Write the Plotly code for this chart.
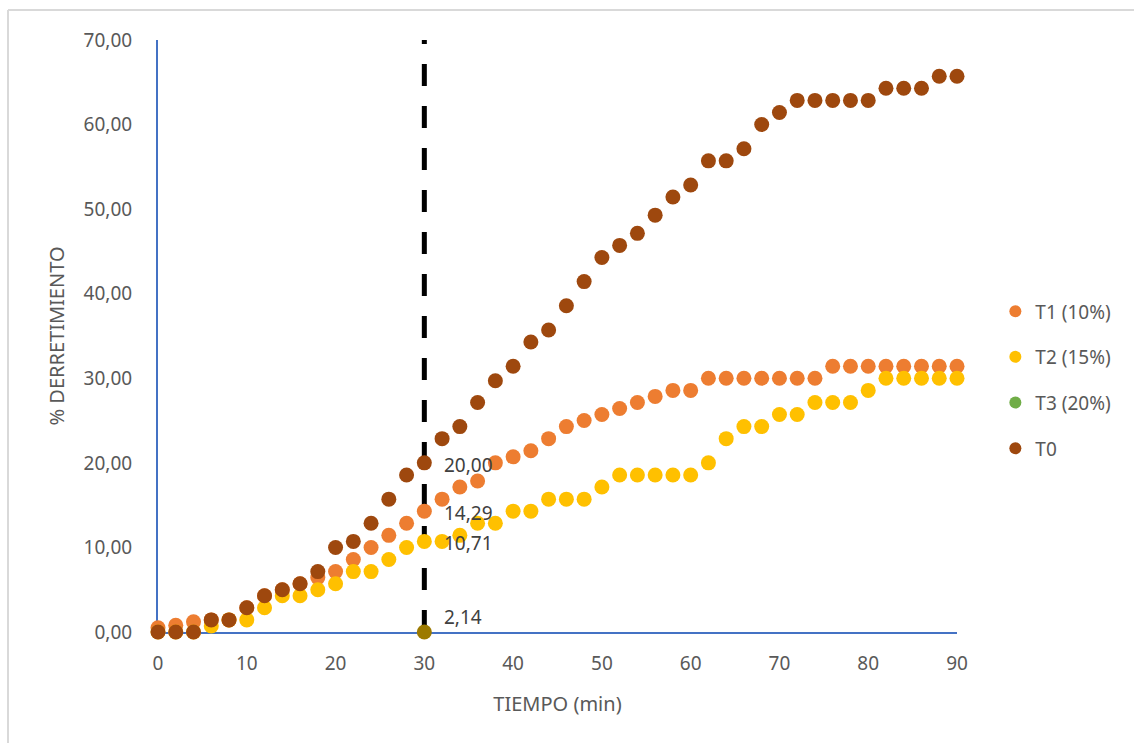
import plotly.graph_objects as go

tiempo = list(range(0, 92, 2))

t0 = [0, 0, 0, 1.43, 1.43, 2.86, 4.29, 5.00, 5.71, 7.14,
      10.00, 10.71, 12.86, 15.71, 18.57, 20.00, 22.86, 24.29, 27.14, 29.71,
      31.43, 34.29, 35.71, 38.57, 41.43, 44.29, 45.71, 47.14, 49.29, 51.43,
      52.86, 55.71, 55.71, 57.14, 60.00, 61.43, 62.86, 62.86, 62.86, 62.86,
      62.86, 64.29, 64.29, 64.29, 65.71, 65.71]
t1 = [0.50, 0.80, 1.20, 1.43, 1.43, 2.86, 4.29, 5.00, 5.71, 6.43,
      7.14, 8.57, 10.00, 11.43, 12.86, 14.29, 15.71, 17.14, 17.86, 20.00,
      20.71, 21.43, 22.86, 24.29, 25.00, 25.71, 26.43, 27.14, 27.86, 28.57,
      28.57, 30.00, 30.00, 30.00, 30.00, 30.00, 30.00, 30.00, 31.43, 31.43,
      31.43, 31.43, 31.43, 31.43, 31.43, 31.43]
t2 = [0, 0, 0, 0.71, 1.43, 1.43, 2.86, 4.29, 4.29, 5.00,
      5.71, 7.14, 7.14, 8.57, 10.00, 10.71, 10.71, 11.43, 12.86, 12.86,
      14.29, 14.29, 15.71, 15.71, 15.71, 17.14, 18.57, 18.57, 18.57, 18.57,
      18.57, 20.00, 22.86, 24.29, 24.29, 25.71, 25.71, 27.14, 27.14, 27.14,
      28.57, 30.00, 30.00, 30.00, 30.00, 30.00]
t3_x = [30]
t3_y = [0]

label_x = 30
label_values = [20.00, 14.29, 10.71, 2.14]
label_y = [20.00, 14.29, 10.71, 2.0]

x_ticks = list(range(0, 100, 10))
y_ticks = list(range(0, 80, 10))

C_T0 = "#9E480E"
C_T1 = "#ED7D31"
C_T2 = "#FFC000"
C_T3 = "#70AD47"
AXIS = "#4472C4"
TXT = "#595959"
FONT = "Noto Sans"
FS = 19

fig = go.Figure()

fig.add_trace(go.Scatter(x=[30, 30], y=[0, 70], mode="lines",
                         line=dict(color="black", width=5, dash="22px,20px"),
                         showlegend=False, hoverinfo="skip", cliponaxis=False))

fig.add_trace(go.Scatter(x=tiempo, y=t1, mode="markers", name="T1 (10%)", legendgroup="a",
                         marker=dict(color=C_T1, size=15), cliponaxis=False))
fig.add_trace(go.Scatter(x=tiempo, y=t2, mode="markers", name="T2 (15%)", legendgroup="b",
                         marker=dict(color=C_T2, size=15), cliponaxis=False))
fig.add_trace(go.Scatter(x=[None], y=[None], mode="markers", name="T3 (20%)", legendgroup="c",
                         marker=dict(color=C_T3, size=15)))
fig.add_trace(go.Scatter(x=tiempo, y=t0, mode="markers", name="T0", legendgroup="d",
                         marker=dict(color=C_T0, size=15), cliponaxis=False))
fig.add_trace(go.Scatter(x=t3_x, y=t3_y, mode="markers", showlegend=False,
                         marker=dict(color="#9C7A00", size=15), cliponaxis=False))

for v, yy in zip(label_values, label_y):
    fig.add_annotation(x=label_x, y=yy, text=f"{v:.2f}".replace(".", ","),
                       showarrow=False, xanchor="left", xshift=18, yshift=-2,
                       font=dict(family=FONT, size=FS, color="#404040"))

# outer chart border (light gray)
fig.add_shape(type="line", xref="paper", yref="paper",
              x0=(8 - 158) / 799, x1=(8 - 158) / 799,
              y0=(632 - 10) / 592, y1=(632 - 760) / 592,
              line=dict(color="#D9D9D9", width=2))
fig.add_shape(type="line", xref="paper", yref="paper",
              x0=(8 - 158) / 799, x1=(1150 - 158) / 799,
              y0=(632 - 10) / 592, y1=(632 - 10) / 592,
              line=dict(color="#D9D9D9", width=2))

fig.update_layout(
    width=1134, height=743,
    margin=dict(l=158, r=177, t=40, b=111),
    paper_bgcolor="white", plot_bgcolor="white",
    separators=",.",
    font=dict(family=FONT, size=FS, color=TXT),
    legend=dict(x=1.048, y=0.426, xanchor="left", yanchor="middle",
                font=dict(family=FONT, size=FS, color=TXT),
                itemsizing="constant", tracegroupgap=18, traceorder="grouped",
                itemwidth=30),
    xaxis=dict(range=[0, 90], tickvals=x_ticks, showgrid=False, zeroline=False,
               showline=True, linecolor=AXIS, linewidth=2, layer="below traces",
               ticks="", tickfont=dict(size=FS, color=TXT), ticklabelstandoff=13,
               title=dict(text="TIEMPO (min)", font=dict(size=FS + 1, color=TXT), standoff=22)),
    yaxis=dict(range=[0, 70], tickvals=y_ticks, tickformat=".2f", showgrid=False,
               zeroline=False, showline=True, linecolor=AXIS, linewidth=2,
               layer="below traces", ticks="",
               tickfont=dict(size=FS, color=TXT), ticklabelstandoff=20,
               title=dict(text="% DERRETIMIENTO", font=dict(size=FS + 1, color=TXT), standoff=14)),
)

fig.write_html("out.html")
